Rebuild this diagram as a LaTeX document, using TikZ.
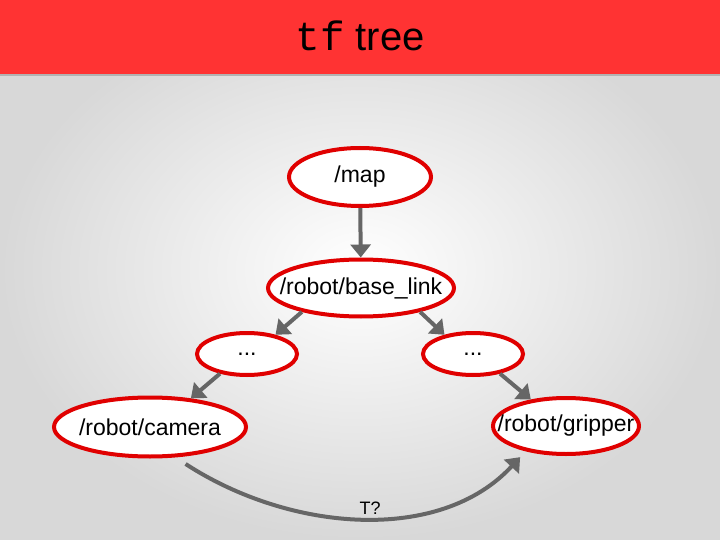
\documentclass[tikz,border=0pt]{standalone}
\usepackage{fontspec}
\setmainfont{Liberation Sans}
\newfontfamily\monofont{Liberation Mono}
\usetikzlibrary{shapes.geometric,arrows.meta}
\definecolor{banner}{HTML}{FF3333}
\definecolor{ellred}{HTML}{E00000}
\definecolor{arrgray}{HTML}{666666}
\definecolor{bgedge}{HTML}{D8D8D8}
\newcommand{\zw}[1]{\makebox[0pt]{#1}}
\tikzset{
  ell/.style={ellipse, draw=ellred, line width=4pt, fill=white, inner sep=0pt, font=\fontsize{23}{27}\selectfont},
  arr/.style={draw=arrgray, line width=4pt, -{Triangle[length=13pt,width=20pt]}},
}
\begin{document}
\begin{tikzpicture}[x=1pt,y=-1pt]
\useasboundingbox (0,0) rectangle (720,540);
\shade[inner color=white, outer color=bgedge] (0,0) rectangle (720,540);
\fill[banner] (0,0) rectangle (720,75);
\draw[gray!60, line width=1.5pt] (0,75) -- (720,75);
\node (title) at (360,36) {{\fontsize{41}{46}\selectfont\monofont tf}\hspace{11pt}{\fontsize{40}{46}\selectfont tree}};

\node[ell, minimum width=142pt, minimum height=58pt] (map) at (360,177) {\zw{/map}};
\node[ell, minimum width=186pt, minimum height=57pt] (base) at (361,288) {\zw{/robot/base\_link}};
\node[ell, minimum width=100pt, minimum height=42pt] (dotsL) at (247,354) {\zw{...}};
\node[ell, minimum width=100pt, minimum height=42pt] (dotsR) at (473,354) {\zw{...}};
\node[ell, minimum width=192pt, minimum height=59pt] (cam) at (150,427) {\zw{/robot/camera}};
\node[ell, minimum width=146pt, minimum height=56pt] (grip) at (566,426) {\zw{/robot/gripper}};

\draw[arr] (map) -- (base);
\draw[arr] (base.202) -- (dotsL.34);
\draw[arr] (base.338) -- (dotsR.146);
\draw[arr] (dotsL.216) -- (cam.35);
\draw[arr] (dotsR.324) -- (grip.143);

\node[font=\fontsize{18}{21}\selectfont] (T) at (370,508) {T?};
\draw[arr, shorten <=12pt, shorten >=8pt] (cam.-50) .. controls (290,532) and (440,544) .. (grip.212);
\end{tikzpicture}
\end{document}
